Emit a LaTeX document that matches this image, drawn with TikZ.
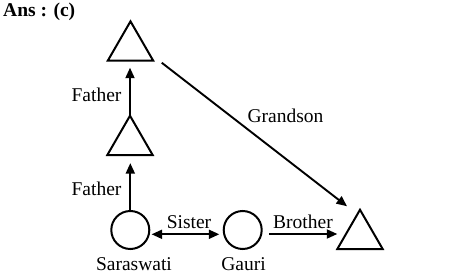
\documentclass[tikz,border=0pt]{standalone}
\usepackage{fontspec}
\setmainfont{Liberation Serif}
\usetikzlibrary{arrows.meta,shapes.geometric}
\begin{document}
\begin{tikzpicture}[x=1pt,y=-1pt,
  every node/.style={font=\fontsize{19.5}{22}\selectfont},
  tri/.style={draw, line width=2pt, regular polygon, regular polygon sides=3, minimum size=52.5pt, inner sep=0pt, outer sep=0pt},
  circ/.style={draw, line width=2pt, circle, minimum size=38pt, inner sep=0pt, outer sep=0pt},
  arr/.style={line width=1.9pt, -{Triangle[length=10.5pt,width=9pt]}},
  darr/.style={line width=1.9pt, {Triangle[length=10.5pt,width=9pt]}-{Triangle[length=10.5pt,width=9pt]}},
  lbl/.style={anchor=base, inner sep=0pt}]
\useasboundingbox (0,0) rectangle (454,280);
% shapes
\node[tri] (t1) at (130.5,47.6) {};
\node[tri] (t2) at (130,142) {};
\node[tri] (t3) at (360,236) {};
\node[circ] (sar) at (130.3,230) {};
\node[circ] (gau) at (242.7,230) {};
% labels
\node[lbl, anchor=base west] (ans) at (3,17) {\textbf{Ans : (c)}};
\node[lbl] (f1) at (96.5,102) {Father};
\node[lbl] (f2) at (96.5,195) {Father};
\node[lbl] (sis) at (189,228) {Sister};
\node[lbl] (bro) at (303,228) {Brother};
\node[lbl] (gs) at (285.5,123) {Grandson};
\node[lbl] (ns) at (134,270) {Saraswati};
\node[lbl] (ng) at (243.5,270) {Gauri};
% connectors
\draw[arr, shorten >=7pt] (t2.corner 1) -- (t2.corner 1 |- t1.corner 2);
\draw[arr, shorten >=8pt] (sar.north) -- (sar.north |- t2.corner 2);
\path (sar.center) ++(0,4.3) coordinate (s0);
\draw[darr, shorten <=2.3pt, shorten >=4.4pt] (s0 -| sar.east) -- (s0 -| gau.west);
\path (gau.center) ++(0,4) coordinate (b0);
\draw[arr, shorten <=7.3pt] (b0 -| gau.east) -- (b0 -| t3.corner 2);
\draw[arr] ([shift={(8.5,2)}]t1.corner 3) -- ([shift={(-13,-3.5)}]t3.corner 1);
\end{tikzpicture}
\end{document}
